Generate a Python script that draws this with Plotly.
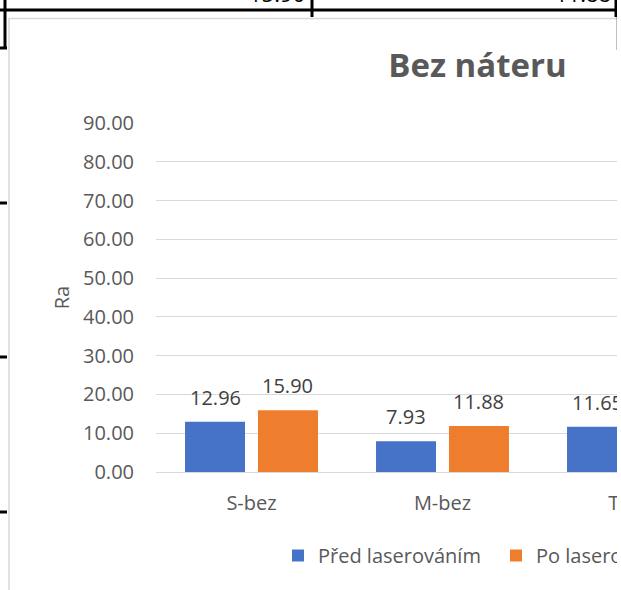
import plotly.graph_objects as go

# ---------------- data ----------------
categories = ["S-bez", "M-bez", "T-bez"]
pred_values = [12.96, 7.93, 11.65]
po_values = [15.90, 11.88, 13.50]
series_names = ["Před laserováním", "Po laserováním"]
y_ticks = [0, 10, 20, 30, 40, 50, 60, 70, 80, 90]
table_texts = ["15.90", "11.88"]

# ---------------- layout constants ----------------
W, H = 760, 590
L, T, Bpx = 156, 123, 472
CAT_PX = 191
PW = CAT_PX * len(categories)
PH = Bpx - T
BARGAP = 0.236
BARGROUPGAP = 0.178
FONT = "Open Sans"
GRAY = "#595959"
DARK = "#404040"
BLUE = "#4673c7"
ORANGE = "#ef7d2e"


def px2x(px):
    return (px - L) / PW


def py2y(py):
    return (Bpx - py) / PH


fig = go.Figure()
fig.add_trace(go.Bar(name=series_names[0], x=categories, y=pred_values,
                     marker=dict(color=BLUE, line=dict(width=0))))
fig.add_trace(go.Bar(name=series_names[1], x=categories, y=po_values,
                     marker=dict(color=ORANGE, line=dict(width=0))))

# data labels above bars
offset = CAT_PX * (1 - BARGAP) / 4
annotations = []
for vals, sh in ((pred_values, -offset), (po_values, offset)):
    for c, v in zip(categories, vals):
        annotations.append(dict(x=c, y=v, xref="x", yref="y", text=f"{v:.2f}",
                                showarrow=False, xshift=sh, yshift=9,
                                yanchor="bottom", xanchor="center",
                                font=dict(family=FONT, size=20, color=DARK)))

# partial table texts at the very top (cut by page edge)
for txt, xr in zip(table_texts, (307, 613)):
    annotations.append(dict(x=px2x(xr), y=py2y(10), xref="paper", yref="paper",
                            text=txt, showarrow=False, xanchor="right",
                            yanchor="bottom",
                            font=dict(family=FONT, size=22, color="#000000")))

shapes = []
# chart area border
shapes.append(dict(type="rect", xref="paper", yref="paper",
                   x0=px2x(9), x1=px2x(W - 2), y0=py2y(H + 20), y1=py2y(18.5),
                   line=dict(color="#d9d9d9", width=1.5), fillcolor="rgba(0,0,0,0)",
                   layer="below"))
# table lines behind chart
blk = dict(color="#000000", width=3)
shapes.append(dict(type="line", xref="paper", yref="paper",
                   x0=px2x(0), x1=px2x(617), y0=py2y(10), y1=py2y(10), line=blk))
shapes.append(dict(type="line", xref="paper", yref="paper",
                   x0=px2x(5), x1=px2x(5), y0=py2y(0), y1=py2y(48), line=blk))
shapes.append(dict(type="line", xref="paper", yref="paper",
                   x0=px2x(312), x1=px2x(312), y0=py2y(0), y1=py2y(17), line=blk))
shapes.append(dict(type="line", xref="paper", yref="paper",
                   x0=px2x(616), x1=px2x(616), y0=py2y(0), y1=py2y(17), line=blk))
shapes.append(dict(type="line", xref="paper", yref="paper",
                   x0=px2x(617.5), x1=px2x(617.5), y0=py2y(17), y1=py2y(50),
                   line=dict(color="#000000", width=1.5)))
for yy in (48, 203, 357, 512):
    shapes.append(dict(type="line", xref="paper", yref="paper",
                       x0=px2x(0), x1=px2x(7), y0=py2y(yy), y1=py2y(yy), line=blk))

fig.update_layout(
    width=W, height=H,
    margin=dict(l=L, r=W - L - PW, t=T, b=H - Bpx, pad=0, autoexpand=False),
    paper_bgcolor="white", plot_bgcolor="white",
    barmode="group", bargap=BARGAP, bargroupgap=BARGROUPGAP,
    font=dict(family=FONT, size=20, color=GRAY),
    title=dict(text="<b>Bez náteru</b>", xref="container", yref="container",
               x=477.5 / W, y=1 - 65 / H, xanchor="center", yanchor="middle",
               font=dict(family=FONT, size=33, color=GRAY)),
    xaxis=dict(range=[-0.5, len(categories) - 0.5], showline=True,
               linecolor="#d9d9d9", linewidth=1, showgrid=False, ticks="",
               ticklabelstandoff=13, automargin=False,
               tickfont=dict(family=FONT, size=20, color=GRAY)),
    yaxis=dict(range=[0, 90], tickvals=y_ticks, tickformat=".2f",
               showgrid=True, gridcolor="#d9d9d9", gridwidth=1,
               zeroline=False, showline=False, ticks="", ticklabelstandoff=21,
               automargin=False,
               tickfont=dict(family=FONT, size=20, color=GRAY),
               title=dict(text="Ra", standoff=8,
                          font=dict(family=FONT, size=20, color=GRAY))),
    legend=dict(orientation="h", x=px2x(278), xanchor="left",
                y=py2y(536), yanchor="top", entrywidth=173,
                entrywidthmode="pixels", bgcolor="rgba(0,0,0,0)",
                font=dict(family=FONT, size=20, color=GRAY)),
    showlegend=True,
    annotations=annotations,
    shapes=shapes,
)

post = ("document.documentElement.style.margin='0';"
        "document.body.style.margin='0';document.body.style.overflow='hidden';"
        "var gd=document.getElementById('{plot_id}');"
        "gd.parentElement.style.width='617px';"
        "gd.parentElement.style.overflow='hidden';")

fig.write_html("out.html", post_script=post, config={"displayModeBar": False})
